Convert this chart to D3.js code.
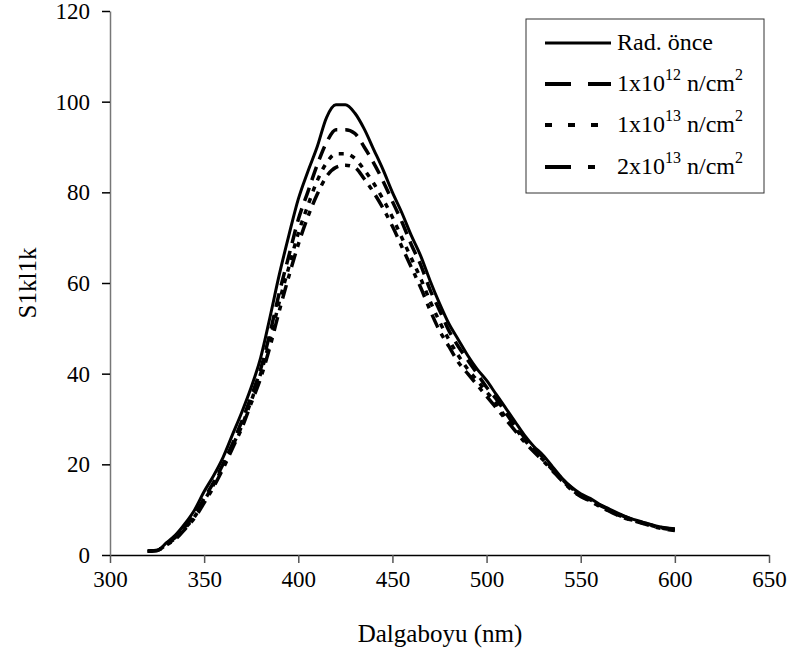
<!DOCTYPE html>
<html>
<head>
<meta charset="utf-8">
<script src="https://cdn.jsdelivr.net/npm/d3@7.9.0/dist/d3.min.js"></script>
<style>
  body { margin: 0; background: #fff; }
</style>
</head>
<body>
<svg width="793" height="654" font-family="Liberation Serif"></svg>
<script>
const wavelengths = [320, 325, 330, 335, 340, 345, 350, 355, 360, 365, 370, 375, 380, 385, 390, 395,
  400, 405, 410, 415, 420, 425, 430, 435, 440, 445, 450, 455, 460, 465, 470, 475, 480, 485, 490, 495,
  500, 505, 510, 515, 520, 525, 530, 535, 540, 545, 550, 555, 560, 565, 570, 575, 580, 585, 590, 595, 600];

const radOnce = [0.9, 1.0, 2.7, 4.5, 7, 10, 14, 17.5, 21.5, 26.5, 31.5, 37, 43.5, 52.5, 62, 70.5,
  78.5, 84.5, 90, 96.5, 99.3, 99.3, 97.5, 94, 89.5, 85, 80, 75.5, 70.5, 66, 60.5, 55.5, 51, 47.5, 44, 41,
  38.5, 35.5, 32.5, 29.5, 26.5, 24, 22, 19.5, 17, 15, 13.5, 12.5, 11.2, 10.2, 9.2, 8.3, 7.6, 7, 6.4, 6, 5.8];

const dose1e12 = [0.9, 1.0, 2.5, 4, 6.3, 9, 12.5, 16, 20, 24.5, 29.5, 35, 41, 49, 58, 66,
  74, 80, 86, 91, 93.8, 93.8, 93, 90, 86.5, 82.5, 78, 73.5, 68.5, 64, 58.5, 54, 49.5, 46, 43, 40,
  37, 34.5, 31.5, 28.5, 26, 23.5, 21.5, 19, 16.8, 14.8, 13.2, 12.2, 11, 10, 9, 8.2, 7.5, 6.9, 6.3, 5.9, 5.7];

const dose1e13 = [0.8, 1.0, 2.3, 3.8, 6, 8.5, 12, 15.5, 19.5, 24, 28.5, 34, 40, 47.5, 56, 63.5,
  71, 77, 82.5, 86.5, 88.5, 88.5, 87.5, 85, 82, 78.5, 74.5, 70, 65.5, 61, 56, 51.5, 47.5, 44, 41, 38.5,
  36, 33.5, 30.5, 28, 25.5, 23, 21, 18.8, 16.5, 14.5, 13, 12, 10.8, 9.8, 8.8, 8, 7.4, 6.8, 6.2, 5.8, 5.5];

const dose2e13 = [0.8, 1.0, 2.2, 3.6, 5.8, 8.2, 11.5, 15, 19, 23.5, 28, 33.5, 39, 46, 54, 61.5,
  68.5, 74.5, 79.5, 83.5, 85.5, 86, 85.5, 83, 80, 76.5, 72.5, 68, 63.5, 59, 54, 49.5, 46, 42.5, 40, 37.5,
  35, 32.5, 30, 27.5, 25, 22.8, 20.8, 18.6, 16.4, 14.4, 12.9, 11.9, 10.7, 9.7, 8.7, 7.9, 7.3, 6.7, 6.1, 5.7, 5.4];

const xTicks = [300, 350, 400, 450, 500, 550, 600, 650];
const yTicks = [0, 20, 40, 60, 80, 100, 120];

const serif = 'Liberation Serif';

const series = [
  { label: 'Rad. önce', values: radOnce, dash: null, legendDash: null, width: 3 },
  { label: ['1x10', '12', ' n/cm', '2'], values: dose1e12, dash: '14,8', legendDash: '26,17', width: 3.5 },
  { label: ['1x10', '13', ' n/cm', '2'], values: dose1e13, dash: '5,7', legendDash: '7,16', width: 3.5 },
  { label: ['2x10', '13', ' n/cm', '2'], values: dose2e13, dash: '14,7,5,7', legendDash: '26,17,7,17', width: 3.5 }
];

const svg = d3.select('svg');
const x = d3.scaleLinear().domain([300, 650]).range([110, 769]);
const y = d3.scaleLinear().domain([0, 120]).range([555, 11]);

// axes
const xAxis = svg.append('g')
  .attr('transform', `translate(0,${y(0)})`)
  .call(d3.axisBottom(x).tickValues(xTicks).tickSize(8).tickSizeOuter(0));
xAxis.attr('font-family', serif).attr('font-size', 23);
xAxis.select('.domain').attr('stroke', '#000').attr('stroke-width', 1.5);
xAxis.selectAll('.tick line').attr('stroke', '#555').attr('stroke-width', 1.5);
xAxis.selectAll('.tick text').attr('font-family', serif).attr('font-size', 23)
  .attr('dy', '0.95em').attr('y', 10);

const yAxis = svg.append('g')
  .attr('transform', `translate(${x(300)},0)`)
  .call(d3.axisLeft(y).tickValues(yTicks).tickSize(8).tickSizeOuter(0));
yAxis.attr('font-family', serif).attr('font-size', 23);
yAxis.select('.domain').attr('stroke', '#777').attr('stroke-width', 1.5);
yAxis.selectAll('.tick line').attr('stroke', '#000').attr('stroke-width', 1.5);
yAxis.selectAll('.tick text').attr('font-family', serif).attr('font-size', 23).attr('x', -20);

// axis titles
svg.append('text')
  .attr('x', 440).attr('y', 642)
  .attr('text-anchor', 'middle')
  .attr('font-family', serif)
  .attr('font-size', 25)
  .text('Dalgaboyu (nm)');

svg.append('text')
  .attr('transform', 'translate(36,283) rotate(-90)')
  .attr('text-anchor', 'middle')
  .attr('font-family', serif)
  .attr('font-size', 25)
  .text('S1kl1k');

// curves
const line = d3.line()
  .x((d, i) => x(wavelengths[i]))
  .y(d => y(d))
  .curve(d3.curveMonotoneX);

series.forEach(s => {
  svg.append('path')
    .datum(s.values)
    .attr('d', line)
    .attr('fill', 'none')
    .attr('stroke', '#000')
    .attr('stroke-width', s.width)
    .attr('stroke-dasharray', s.dash)
    .attr('stroke-linejoin', 'round');
});

// legend
const legend = svg.append('g');
legend.append('rect')
  .attr('x', 526).attr('y', 19).attr('width', 238).attr('height', 174)
  .attr('fill', '#fff').attr('stroke', '#333').attr('stroke-width', 1);

const rowY = [43, 84, 125, 167];
series.forEach((s, i) => {
  legend.append('line')
    .attr('x1', 545).attr('x2', 611)
    .attr('y1', rowY[i]).attr('y2', rowY[i])
    .attr('stroke', '#000')
    .attr('stroke-width', i === 0 ? 3 : 4)
    .attr('stroke-dasharray', s.legendDash);

  const t = legend.append('text')
    .attr('x', 617).attr('y', rowY[i] + 7)
    .attr('font-family', serif)
    .attr('font-size', 24);
  if (typeof s.label === 'string') {
    t.text(s.label);
  } else {
    t.append('tspan').text(s.label[0]);
    t.append('tspan').attr('dy', -11).attr('font-size', 16).text(s.label[1]);
    t.append('tspan').attr('dy', 11).text(s.label[2]);
    t.append('tspan').attr('dy', -11).attr('font-size', 16).text(s.label[3]);
  }
});
</script>
</body>
</html>
